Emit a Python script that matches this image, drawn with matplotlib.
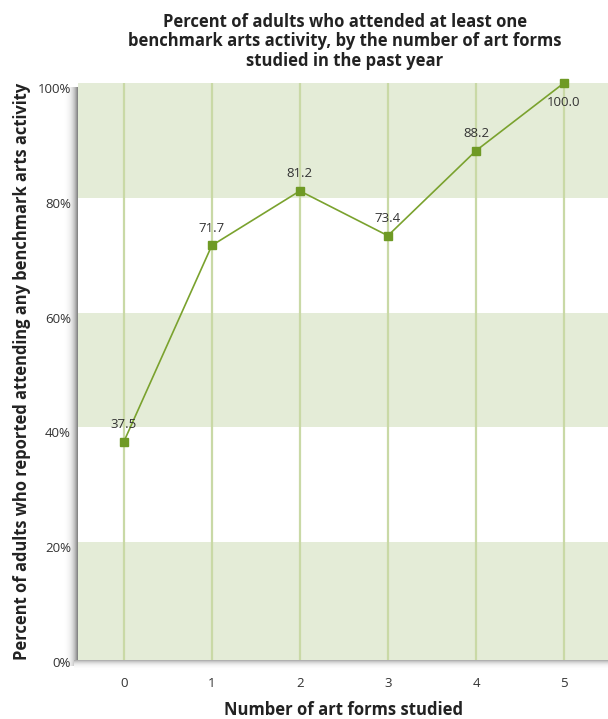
import matplotlib
matplotlib.use("Agg")
import matplotlib.pyplot as plt
import numpy as np

# data
art_forms = [0, 1, 2, 3, 4, 5]
pct_attended = [37.5, 71.7, 81.2, 73.4, 88.2, 100.0]
y_ticks = [0, 20, 40, 60, 80, 100]
y_tick_labels = ["0%", "20%", "40%", "60%", "80%", "100%"]
bands = [(-1, 20), (40, 60), (80, 100)]

band_color = "#e4ecd7"
grid_color = "#c9d9a6"
line_color = "#7aa22e"
marker_color = "#6f9a25"

plt.rcParams['font.family'] = ['Open Sans', 'DejaVu Sans']

W, H = 608, 719
fig = plt.figure(figsize=(W / 100, H / 100), dpi=100)
left, right, top, bottom = 78, 608, 83, 660

# soft shadow left of and below the plot area
sh_w = 15
grad = np.linspace(0, 1, 64) ** 2
ax_sl = fig.add_axes([(left - sh_w) / W, 1 - (bottom + 6) / H, sh_w / W, (bottom + 6 - top - 4) / H])
ax_sl.imshow(grad[None, :], cmap="Greys", vmin=0, vmax=1.7, aspect="auto")
ax_sl.axis("off")
sh_h = 10
ax_sb = fig.add_axes([(left - 4) / W, 1 - (bottom + sh_h) / H, (right - left + 4) / W, sh_h / H])
ax_sb.imshow(grad[::-1][:, None], cmap="Greys", vmin=0, vmax=2.2, aspect="auto")
ax_sb.axis("off")
ax_sl.set_zorder(0)
ax_sb.set_zorder(0)

ax = fig.add_axes([left / W, 1 - bottom / H, (right - left) / W, (bottom - top) / H])
ax.set_zorder(2)

for lo, hi in bands:
    ax.axhspan(lo, hi, color=band_color, zorder=0, lw=0)
for x in art_forms:
    ax.axvline(x, color=grid_color, lw=1.6, zorder=1)

ax.plot(art_forms, pct_attended, color=line_color, lw=1.2, zorder=2, clip_on=False)
ax.plot(art_forms, pct_attended, ls="none", marker="s", ms=6.3,
        color=marker_color, zorder=3, clip_on=False)

for x, v in zip(art_forms, pct_attended):
    if v >= 100:
        ax.annotate(f"{v:.1f}", (x, v), xytext=(0, -14), textcoords="offset points",
                    ha="center", va="center", fontsize=9.5, color="#333333")
    else:
        ax.annotate(f"{v:.1f}", (x, v), xytext=(0, 12.5), textcoords="offset points",
                    ha="center", va="center", fontsize=9.5, color="#333333")

ax.set_xlim(-0.52, 5.5)
ax.set_ylim(-0.5, 100)
ax.set_yticks(y_ticks)
ax.set_yticklabels(y_tick_labels)
ax.set_xticks(art_forms)
ax.tick_params(length=0, labelsize=9.5, labelcolor="#333333")
ax.tick_params(axis="x", pad=12)
ax.tick_params(axis="y", pad=5)
for lbl in ax.get_yticklabels():
    lbl.set_va("top")
for s in ax.spines.values():
    s.set_visible(False)

ax.set_xlabel("Number of art forms studied", fontsize=12, fontweight="bold",
              color="#222222", labelpad=8)
ax.set_ylabel("Percent of adults who reported attending any benchmark arts activity",
              fontsize=11.9, fontweight="bold", color="#222222", labelpad=5)

fig.text(0.567, 0.982,
         "Percent of adults who attended at least one\n"
         "benchmark arts activity, by the number of art forms\n"
         "studied in the past year",
         ha="center", va="top", fontsize=12, fontweight="bold", color="#222222",
         linespacing=1.1)

fig.savefig("out.png", dpi=100)
